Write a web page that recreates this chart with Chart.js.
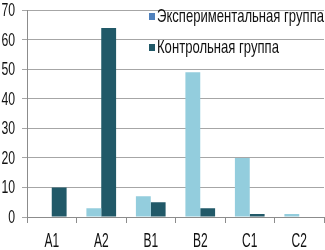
<!DOCTYPE html>
<html>
<head>
<meta charset="utf-8">
<script src="https://cdn.jsdelivr.net/npm/chart.js@4/dist/chart.umd.min.js"></script>
<style>
  html, body { margin: 0; padding: 0; background: #fff; }
  #wrap { width: 325px; height: 250px; }
</style>
</head>
<body>
<div id="wrap"><canvas id="chart"></canvas></div>
<script>
// categories and the two groups
const categories = ['A1', 'A2', 'B1', 'B2', 'C1', 'C2']
const experimental = [0, 3, 7, 49, 20, 1]
const control = [10, 64, 5, 3, 1, 0]
const seriesNames = ['Экспериментальная группа', 'Контрольная группа']

const fontFamily = '"Liberation Sans", Arial, sans-serif'
const textColor = '#111'

// draw text squeezed sideways, the reference font is tall and narrow
function narrowText(ctx, text, x, y, align, size, sx) {
  ctx.save()
  ctx.translate(x, y)
  ctx.scale(sx, 1)
  ctx.font = size + 'px ' + fontFamily
  ctx.textAlign = align
  ctx.textBaseline = 'middle'
  ctx.fillStyle = textColor
  ctx.fillText(text, 0, 0)
  ctx.restore()
}

// tick labels + legend inside the plot, top right
const narrowLabels = {
  id: 'narrowLabels',
  afterDraw(chart) {
    const ctx = chart.ctx
    const xs = chart.scales.x
    const ys = chart.scales.y

    ys.ticks.forEach((t, i) => {
      narrowText(ctx, String(t.value), 15, ys.getPixelForTick(i) + 1, 'right', 18, 0.68)
    })
    xs.ticks.forEach((t, i) => {
      narrowText(ctx, chart.data.labels[i], xs.getPixelForTick(i), 241, 'center', 20, 0.6)
    })

    const marks = ['#4f81bd', '#215968']
    const rows = [17, 48]
    chart.data.datasets.forEach((ds, i) => {
      ctx.fillStyle = marks[i]
      ctx.fillRect(149, rows[i] - 4, 6, 7)
      ctx.font = '19px ' + fontFamily
      const w = ctx.measureText(seriesNames[0]).width
      narrowText(ctx, ds.label, 157, rows[i], 'left', 19, 167 / w)
    })
  }
}

const data = {
  labels: categories,
  datasets: [
    {
      label: seriesNames[0],
      backgroundColor: '#93cddd',
      data: experimental,
    },
    {
      label: seriesNames[1],
      backgroundColor: '#215968',
      data: control,
    }
  ]
}

const config = {
  type: 'bar',
  data: data,
  options: {
    responsive: true,
    maintainAspectRatio: false,
    animation: false,
    layout: { padding: { top: 0, right: 1, left: 0, bottom: 0 } },
    datasets: {
      bar: { categoryPercentage: 0.6, barPercentage: 1.0 }
    },
    plugins: {
      legend: { display: false },
      tooltip: { enabled: false }
    },
    scales: {
      x: {
        grid: {
          display: true,
          drawOnChartArea: false,
          drawTicks: true,
          tickLength: 6,
          color: '#8c8c8c',
          offset: true
        },
        border: { color: '#8c8c8c' },
        ticks: { color: 'rgba(0,0,0,0)', font: { size: 12 } },
        afterFit(scale) { scale.height = 33 }
      },
      y: {
        min: 0,
        max: 70,
        ticks: { stepSize: 10, color: 'rgba(0,0,0,0)', font: { size: 12 } },
        grid: {
          color: '#a6a6a6',
          drawTicks: true,
          tickLength: 5
        },
        border: { color: '#8c8c8c' },
        afterFit(scale) { scale.width = 27 }
      }
    }
  },
  plugins: [narrowLabels]
}

const myChart = new Chart(document.getElementById('chart'), config)
</script>
</body>
</html>
